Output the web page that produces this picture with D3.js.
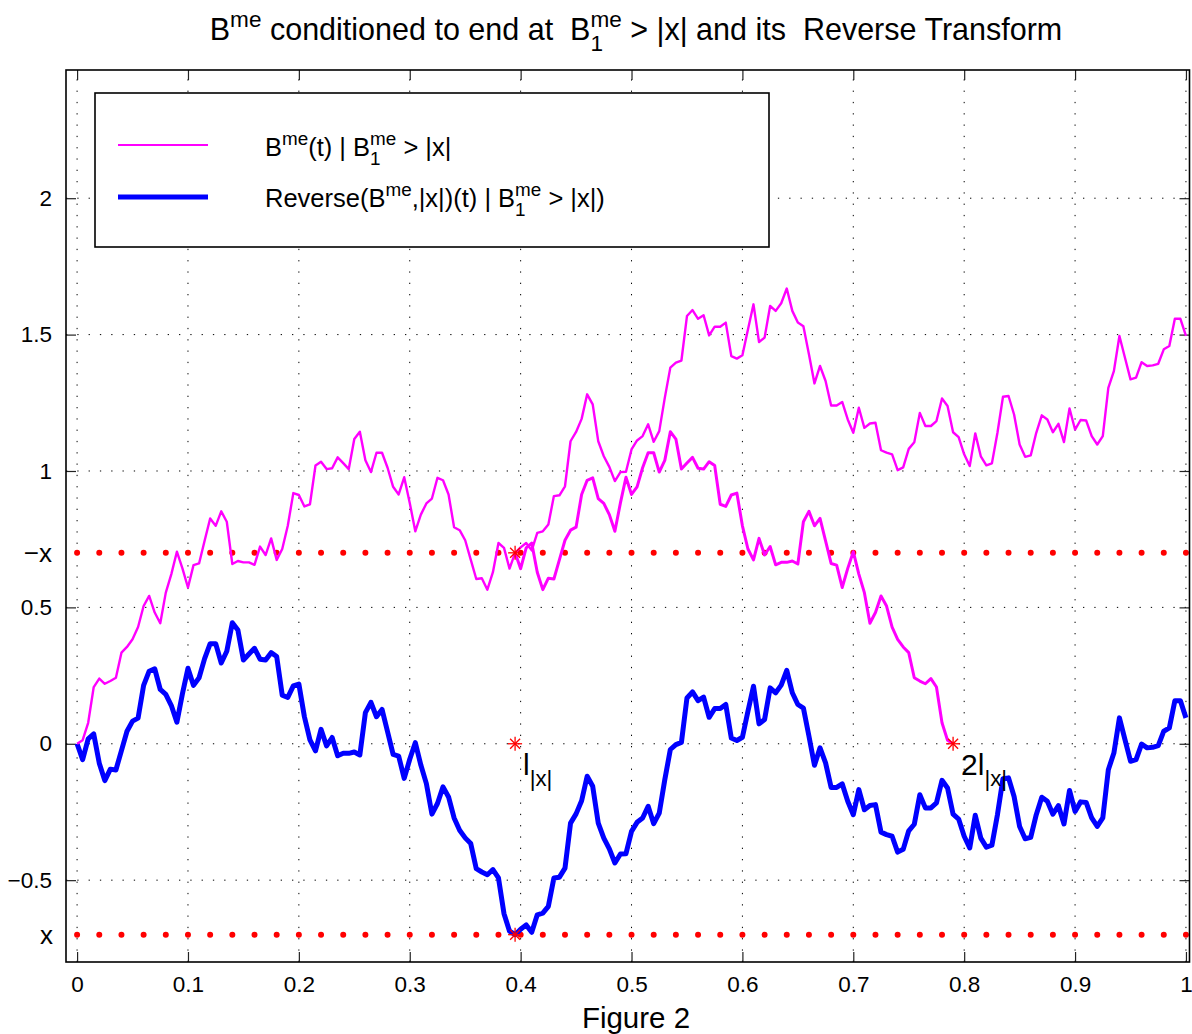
<!DOCTYPE html>
<html>
<head>
<meta charset="utf-8">
<title>Reverse Transform</title>
<style>
  body{margin:0;background:#fff;}
  svg{display:block;font-family:"Liberation Sans",Arial,Helvetica,sans-serif;}
  text{white-space:pre;}
</style>
</head>
<body>
<div id="chart"></div>
<script src="https://d3js.org/d3.v7.min.js"></script>
<script>
// sample step of the paths (t = i * dt)
const dt = 0.005;

// B^me(t) | B1 > |x|, t = 0 .. 1
const bme = [
  0.000, 0.013, 0.077, 0.208, 0.239, 0.220, 0.230, 0.242, 0.334, 0.355,
  0.383, 0.428, 0.505, 0.542, 0.481, 0.442, 0.554, 0.622, 0.704, 0.643,
  0.573, 0.655, 0.661, 0.744, 0.826, 0.799, 0.852, 0.814, 0.659, 0.670,
  0.665, 0.665, 0.656, 0.723, 0.692, 0.753, 0.674, 0.714, 0.799, 0.919,
  0.912, 0.870, 0.878, 1.020, 1.034, 1.007, 1.010, 1.050, 1.029, 1.007,
  1.117, 1.144, 1.039, 0.996, 1.067, 1.067, 1.012, 0.942, 0.914, 0.977,
  0.883, 0.779, 0.840, 0.881, 0.899, 0.975, 0.966, 0.914, 0.794, 0.783,
  0.746, 0.675, 0.604, 0.607, 0.565, 0.629, 0.736, 0.718, 0.642, 0.700,
  0.720, 0.736, 0.709, 0.773, 0.779, 0.804, 0.908, 0.911, 0.944, 1.109,
  1.143, 1.191, 1.281, 1.244, 1.109, 1.054, 1.015, 0.963, 0.996, 0.997,
  1.079, 1.112, 1.128, 1.171, 1.107, 1.146, 1.268, 1.379, 1.397, 1.405,
  1.568, 1.590, 1.558, 1.571, 1.497, 1.529, 1.529, 1.544, 1.421, 1.412,
  1.424, 1.519, 1.611, 1.473, 1.489, 1.605, 1.587, 1.615, 1.669, 1.587,
  1.544, 1.531, 1.428, 1.321, 1.385, 1.330, 1.240, 1.240, 1.253, 1.189,
  1.140, 1.232, 1.158, 1.174, 1.177, 1.076, 1.067, 1.061, 1.003, 1.013,
  1.081, 1.105, 1.213, 1.165, 1.165, 1.183, 1.266, 1.238, 1.142, 1.124,
  1.061, 1.018, 1.138, 1.054, 1.021, 1.028, 1.140, 1.272, 1.275, 1.207,
  1.097, 1.052, 1.057, 1.140, 1.204, 1.189, 1.142, 1.173, 1.106, 1.229,
  1.152, 1.187, 1.185, 1.128, 1.097, 1.128, 1.305, 1.366, 1.495, 1.415,
  1.336, 1.342, 1.399, 1.385, 1.387, 1.393, 1.446, 1.458, 1.558, 1.558,
  1.495
];

// second magenta branch, from l|x| to 2l|x|
const mirrorStart = 0.395;
const bmeMirror = [
  0.700, 0.642, 0.718, 0.736, 0.629, 0.565, 0.607, 0.604, 0.675, 0.746,
  0.783, 0.794, 0.914, 0.966, 0.975, 0.899, 0.881, 0.840, 0.779, 0.883,
  0.977, 0.914, 0.942, 1.012, 1.067, 1.067, 0.996, 1.039, 1.144, 1.117,
  1.007, 1.029, 1.050, 1.010, 1.007, 1.034, 1.020, 0.878, 0.870, 0.912,
  0.919, 0.799, 0.714, 0.674, 0.753, 0.692, 0.723, 0.656, 0.665, 0.665,
  0.670, 0.659, 0.814, 0.852, 0.799, 0.826, 0.744, 0.661, 0.655, 0.573,
  0.643, 0.704, 0.622, 0.554, 0.442, 0.481, 0.542, 0.505, 0.428, 0.383,
  0.355, 0.334, 0.242, 0.230, 0.220, 0.239, 0.208, 0.077, 0.013, 0.000
];

// Reverse(B^me,|x|)(t), t = 0 .. 1
const reverseB = [
  0.000, -0.058, 0.018, 0.036, -0.071, -0.135, -0.093, -0.096, -0.025, 0.046,
  0.083, 0.094, 0.214, 0.266, 0.275, 0.199, 0.181, 0.140, 0.079, 0.183,
  0.277, 0.214, 0.242, 0.312, 0.367, 0.367, 0.296, 0.339, 0.444, 0.417,
  0.307, 0.329, 0.350, 0.310, 0.307, 0.334, 0.320, 0.178, 0.170, 0.212,
  0.219, 0.099, 0.014, -0.026, 0.053, -0.008, 0.023, -0.044, -0.035, -0.035,
  -0.030, -0.041, 0.114, 0.152, 0.099, 0.126, 0.044, -0.039, -0.045, -0.127,
  -0.057, 0.004, -0.078, -0.146, -0.258, -0.219, -0.158, -0.195, -0.272, -0.317,
  -0.345, -0.366, -0.458, -0.470, -0.480, -0.461, -0.492, -0.623, -0.687, -0.700,
  -0.680, -0.664, -0.691, -0.627, -0.621, -0.596, -0.492, -0.489, -0.456, -0.291,
  -0.257, -0.209, -0.119, -0.156, -0.291, -0.346, -0.385, -0.437, -0.404, -0.403,
  -0.321, -0.288, -0.272, -0.229, -0.293, -0.254, -0.132, -0.021, -0.003, 0.005,
  0.168, 0.190, 0.158, 0.171, 0.097, 0.129, 0.129, 0.144, 0.021, 0.012,
  0.024, 0.119, 0.211, 0.073, 0.089, 0.205, 0.187, 0.215, 0.269, 0.187,
  0.144, 0.131, 0.028, -0.079, -0.015, -0.070, -0.160, -0.160, -0.147, -0.211,
  -0.260, -0.168, -0.242, -0.226, -0.223, -0.324, -0.333, -0.339, -0.397, -0.387,
  -0.319, -0.295, -0.187, -0.235, -0.235, -0.217, -0.134, -0.162, -0.258, -0.276,
  -0.339, -0.382, -0.262, -0.346, -0.379, -0.372, -0.260, -0.128, -0.125, -0.193,
  -0.303, -0.348, -0.343, -0.260, -0.196, -0.211, -0.258, -0.227, -0.294, -0.171,
  -0.248, -0.213, -0.215, -0.272, -0.303, -0.272, -0.095, -0.034, 0.095, 0.015,
  -0.064, -0.058, -0.001, -0.015, -0.013, -0.007, 0.046, 0.058, 0.158, 0.158,
  0.095
];

// level |x| and the marked points
const xLevel = 0.7;
const markT = [0.395, 0.395, 0.395, 0.79];
const markY = [0.7, 0, -0.7, 0];

const xTicks = [0, 0.1, 0.2, 0.3, 0.4, 0.5, 0.6, 0.7, 0.8, 0.9, 1];
const xTickText = ['0', '0.1', '0.2', '0.3', '0.4', '0.5', '0.6', '0.7', '0.8', '0.9', '1'];
const yTicks = [-0.5, 0, 0.5, 1, 1.5, 2];
const yTickText = ['\u22120.5', '0', '0.5', '1', '1.5', '2'];

const W = 1192, H = 1034;
const axLeft = 66, axRight = 1189.5, axTop = 70, axBottom = 962;

const magenta = '#ff00ff', blue = '#0000ff', red = '#ff0000';

const svg = d3.select('#chart').append('svg').attr('width', W).attr('height', H);

const x = d3.scaleLinear().domain([-0.01, 1.0032]).range([axLeft, axRight]);
const y = d3.scaleLinear().domain([-0.8, 2.47]).range([axBottom, axTop]);

// text with super / subscripts, parts = [[string, kind], ...]
function rich(sel, px, py, parts, size, anchor){
  const t = sel.append('text').attr('x', px).attr('y', py)
    .attr('font-size', size).attr('text-anchor', anchor || 'start').attr('fill', '#000');
  const small = size * 0.74;
  const supOff = -0.42 * size, subOff = 0.36 * size;
  let cur = 0;
  parts.forEach(function(p){
    const s = p[0], k = p[1];
    if (k === 'n'){
      t.append('tspan').attr('dy', -cur).text(s);
      cur = 0;
    } else if (k === 'sup'){
      t.append('tspan').attr('dy', supOff - cur).attr('font-size', small).text(s);
      cur = supOff;
    } else if (k === 'sub'){
      t.append('tspan').attr('dy', subOff - cur).attr('font-size', small).text(s);
      cur = subOff;
    } else if (k === 'ss'){
      const sb = t.append('tspan').attr('dy', subOff - cur).attr('font-size', small).text(s[0]);
      const w = sb.node().getComputedTextLength();
      t.append('tspan').attr('dx', -w).attr('dy', supOff - subOff).attr('font-size', small).text(s[1]);
      cur = supOff;
    }
  });
  return t;
}

// grid
const grid = svg.append('g').attr('stroke', '#000').attr('stroke-width', 1).attr('stroke-dasharray', '1.3,10');
grid.selectAll('.gx').data(xTicks).enter().append('line')
  .attr('x1', d => x(d)).attr('x2', d => x(d)).attr('y1', axBottom).attr('y2', axTop);
grid.selectAll('.gy').data(yTicks).enter().append('line')
  .attr('y1', d => y(d)).attr('y2', d => y(d)).attr('x1', axLeft).attr('x2', axRight);

// axes, ticks pointing inward
const axB = svg.append('g').attr('transform', 'translate(0,' + axBottom + ')')
  .call(d3.axisBottom(x).tickValues(xTicks).tickFormat((d, i) => xTickText[i]).tickSizeInner(-10).tickSizeOuter(0).tickPadding(14));
const axT = svg.append('g').attr('transform', 'translate(0,' + axTop + ')')
  .call(d3.axisTop(x).tickValues(xTicks).tickFormat('').tickSizeInner(-10).tickSizeOuter(0));
const axL = svg.append('g').attr('transform', 'translate(' + axLeft + ',0)')
  .call(d3.axisLeft(y).tickValues(yTicks).tickFormat((d, i) => yTickText[i]).tickSizeInner(-10).tickSizeOuter(0).tickPadding(14));
const axR = svg.append('g').attr('transform', 'translate(' + axRight + ',0)')
  .call(d3.axisRight(y).tickValues(yTicks).tickFormat('').tickSizeInner(-10).tickSizeOuter(0));
[axB, axT, axL, axR].forEach(function(a){
  a.select('.domain').remove();
  a.selectAll('.tick line').attr('stroke', '#222').attr('stroke-width', 1.2);
  a.selectAll('text').attr('font-size', 22.5).attr('fill', '#000')
    .attr('font-family', '"Liberation Sans",Arial,sans-serif');
});

// extra labels for the levels x and -x
svg.append('text').attr('x', 52).attr('y', y(xLevel)).attr('dy', '0.36em')
  .attr('text-anchor', 'end').attr('font-size', 26).text('\u2212x');
svg.append('text').attr('x', 53).attr('y', y(-xLevel)).attr('dy', '0.36em')
  .attr('text-anchor', 'end').attr('font-size', 26).text('x');

// dotted levels +|x| and -|x|
const dotStep = x(0.02) - x(0);
[xLevel, -xLevel].forEach(function(v){
  svg.append('line').attr('x1', x(0)).attr('x2', x(1) + 0.5)
    .attr('y1', y(v)).attr('y2', y(v))
    .attr('stroke', red).attr('stroke-width', 6).attr('stroke-linecap', 'round')
    .attr('stroke-dasharray', '0,' + dotStep);
});

// paths
const line = d3.line().x(d => x(d[0])).y(d => y(d[1]));
const plot = svg.append('g').attr('fill', 'none').attr('stroke-linejoin', 'round');

plot.append('path').datum(reverseB.map((v, i) => [i * dt, v]))
  .attr('d', line).attr('stroke', blue).attr('stroke-width', 5);
plot.append('path').datum(bme.map((v, i) => [i * dt, v]))
  .attr('d', line).attr('stroke', magenta).attr('stroke-width', 2.4);
plot.append('path').datum(bmeMirror.map((v, i) => [mirrorStart + i * dt, v]))
  .attr('d', line).attr('stroke', magenta).attr('stroke-width', 3);

// star markers
const star = svg.append('g').attr('stroke', red).attr('stroke-width', 1.3);
markT.forEach(function(t, i){
  const cx = x(t), cy = y(markY[i]), r = 7, q = 5;
  star.append('line').attr('x1', cx - r).attr('x2', cx + r).attr('y1', cy).attr('y2', cy);
  star.append('line').attr('x1', cx).attr('x2', cx).attr('y1', cy - r).attr('y2', cy + r);
  star.append('line').attr('x1', cx - q).attr('x2', cx + q).attr('y1', cy - q).attr('y2', cy + q);
  star.append('line').attr('x1', cx - q).attr('x2', cx + q).attr('y1', cy + q).attr('y2', cy - q);
});

// annotations
rich(svg, x(markT[1]) + 8, y(0) + 31, [['l', 'n'], ['|x|', 'sub']], 30);
rich(svg, x(markT[3]) + 8, y(0) + 31, [['2l', 'n'], ['|x|', 'sub']], 30);

// frame
svg.append('rect').attr('x', axLeft).attr('y', axTop).attr('width', axRight - axLeft).attr('height', axBottom - axTop)
  .attr('fill', 'none').attr('stroke', '#000').attr('stroke-width', 1.6);

// legend
const lg = svg.append('g');
lg.append('rect').attr('x', 95).attr('y', 93).attr('width', 674).attr('height', 154)
  .attr('fill', '#fff').attr('stroke', '#000').attr('stroke-width', 1.6);
lg.append('line').attr('x1', 118).attr('x2', 208).attr('y1', 145).attr('y2', 145)
  .attr('stroke', magenta).attr('stroke-width', 2.2);
lg.append('line').attr('x1', 118).attr('x2', 208).attr('y1', 197).attr('y2', 197)
  .attr('stroke', blue).attr('stroke-width', 5);
rich(lg, 265, 156, [['B', 'n'], ['me', 'sup'], ['(t) | B', 'n'], [['1', 'me'], 'ss'], [' > |x|', 'n']], 25.5);
rich(lg, 265, 207, [['Reverse(B', 'n'], ['me', 'sup'], [',|x|)(t) | B', 'n'], [['1', 'me'], 'ss'], [' > |x|)', 'n']], 25.5);

// title and x label
rich(svg, 636, 40, [['B', 'n'], ['me', 'sup'], [' conditioned to end at  B', 'n'], [['1', 'me'], 'ss'], [' > |x| and its  Reverse Transform', 'n']], 30.5, 'middle');
svg.append('text').attr('x', 636).attr('y', 1028).attr('text-anchor', 'middle')
  .attr('font-size', 29.5).text('Figure 2');
</script>
</body>
</html>
